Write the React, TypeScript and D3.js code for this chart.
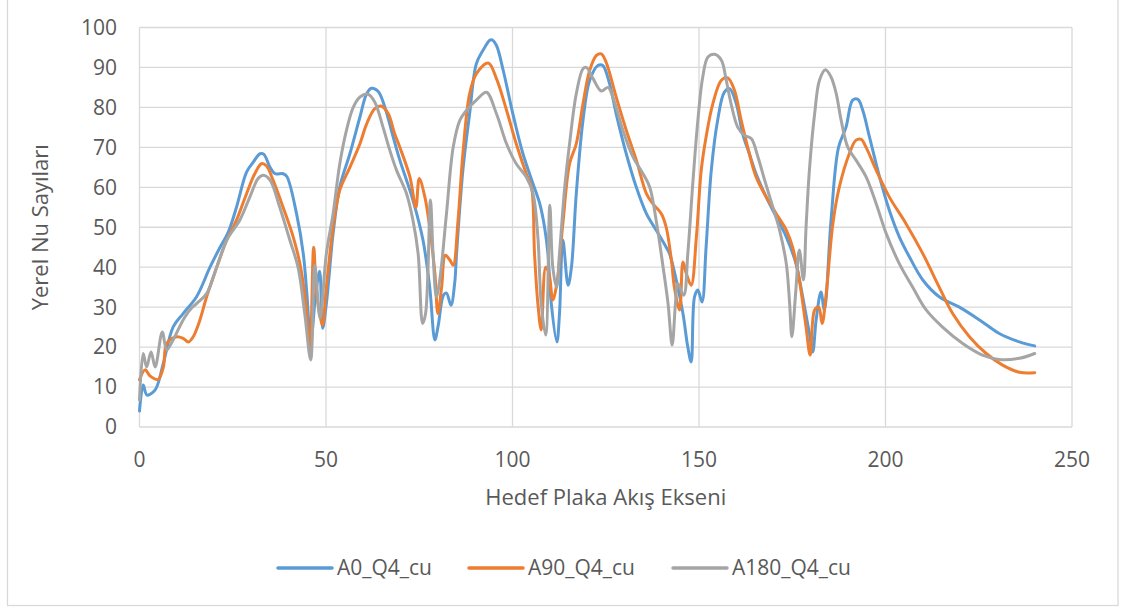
import React from "react";
import * as d3 from "d3";

const xTicks = [0, 50, 100, 150, 200, 250];
const yTicks = [0, 10, 20, 30, 40, 50, 60, 70, 80, 90, 100];
const seriesNames = ["A0_Q4_cu", "A90_Q4_cu", "A180_Q4_cu"];
const seriesColors = ["#5b9bd5", "#ed7d31", "#a5a5a5"];

const A0_Q4_cu: [number, number][] = [
  [0, 4], [1, 10.5], [2, 8], [4.2, 9.3], [6.4, 16], [9, 25], [11.7, 28.4], [15.3, 32.6], [18.9, 40], [21.6, 45],
  [23.8, 48.8], [26, 55], [28.7, 63.8], [30.5, 66.3], [32.3, 68.4], [33.3, 68.3], [35, 65], [36.3, 63.4], [38.5, 63.4],
  [39.5, 62.7], [42.1, 53.4], [43.9, 43.4], [44.9, 33], [45.9, 21], [47.2, 33], [48.3, 39], [49.1, 24.7], [50.1, 30.9],
  [51.9, 48.4], [53.7, 60.1], [56.4, 68.4], [59.1, 77.6], [60.9, 83.4], [62.2, 84.8], [64, 84], [65.8, 80], [68, 72.6],
  [69.8, 66.8], [73.3, 56.8], [76, 46.8], [77.8, 35], [79.2, 21.8], [80.1, 25.5], [81.5, 33], [82.3, 33.5], [83.5, 30.5],
  [84.5, 36], [85, 43.4], [86.7, 64.3], [88.5, 78.4], [90.3, 90.9], [92.1, 94.3], [93.9, 96.8], [94.5, 96.9], [95.7, 95.5],
  [97.5, 89.3], [100.1, 78.4], [102.8, 68.4], [105.5, 60.9], [107.3, 55.9], [108.6, 50], [109.5, 43.4], [110.4, 30.9],
  [111.9, 21.3], [112.6, 28.4], [113.5, 46.8], [114.9, 35.5], [115.8, 40], [117.1, 58.4], [118.9, 76.8], [120.7, 86.8],
  [122.9, 90.5], [124.2, 90.5], [126, 86], [127.8, 78.4], [130.5, 68.4], [133.2, 60], [135.9, 53.4], [138.5, 49.3],
  [141.2, 45], [142.1, 43.4], [143.9, 36.8], [145.7, 28.4], [147, 20], [147.9, 16.3], [148.8, 32.6], [149.7, 34.3],
  [150.8, 31.3], [151.9, 45], [153.3, 64.3], [155, 76.8], [156.8, 83.8], [158.2, 84.7], [160, 80.9], [161.7, 73.4],
  [163.5, 68.4], [165.3, 63.4], [168, 57.6], [170.7, 52.6], [173.4, 47.6], [176, 40.9], [177.8, 32.6], [179.6, 23.4],
  [180.5, 18.8], [181.4, 26.8], [182.7, 33.8], [183.6, 29.3], [185.4, 51.8], [187.4, 70], [189.4, 75], [191.2, 81.8],
  [192.6, 82], [193.9, 79.3], [195.7, 72.6], [198.4, 62.6], [201, 54.3], [203.7, 47.6], [206.4, 42.6], [210, 36.8],
  [214.4, 32.6], [219.8, 30], [225.2, 26.8], [230.5, 23.4], [235.9, 21.3], [240, 20.3],
];

const A90_Q4_cu: [number, number][] = [
  [0, 11.8], [1.5, 14.3], [2.8, 12.8], [5, 11.9], [6.4, 15], [7.3, 20.9], [10, 22.6], [11.7, 22.2], [13.1, 21.3],
  [14.4, 22.6], [16.2, 26.8], [18, 32.6], [20.7, 40], [23.4, 46.8], [26, 51.8], [28.7, 58.4], [30.9, 63.4], [32.7, 65.9],
  [34, 65.4], [35.8, 61.8], [38.5, 55], [41.2, 47.6], [43, 40.9], [44.6, 30.9], [45.7, 19.3], [46.7, 45], [47.5, 33.4],
  [49, 25.5], [50.1, 35], [51.9, 50], [53.7, 59.3], [56.4, 65], [59.1, 70.9], [60.9, 75.9], [63.1, 79.7], [64.9, 80.3],
  [66.7, 78.4], [68.4, 73.4], [69.8, 70], [72.5, 62.6], [74.1, 55], [75, 62.2], [76.5, 57.6], [77.8, 50], [79.2, 38.4],
  [80, 28.4], [81, 35], [82, 43], [83.2, 41.8], [84.1, 40.5], [85.4, 51.8], [86.7, 68.4], [88.5, 83.4], [90.3, 88.4],
  [93.5, 91.1], [95.7, 87.2], [98.4, 79.3], [101, 70.9], [103.7, 63.4], [105.1, 60], [105.9, 43.4], [106.8, 30.9],
  [107.7, 24.3], [108.9, 40], [109.8, 38.4], [110.8, 31.8], [111.9, 35.9], [113.5, 50.9], [115.3, 65.9], [117.1, 70.9],
  [118.9, 80.9], [120.7, 89.3], [122.5, 93], [123.8, 93.4], [125.1, 91.3], [127.8, 82.6], [130.5, 74.3], [133.2, 66.8],
  [135.9, 58.4], [137.6, 55.9], [139.9, 53.4], [141.2, 50], [142.6, 41.8], [143.4, 35], [144.8, 29.3], [145.7, 41.3],
  [146.6, 38.4], [147.9, 35.5], [149.3, 47.6], [150.6, 64.3], [151.9, 72.6], [153.7, 80.9], [156, 86.8], [157.7, 87.4],
  [159.5, 84.3], [161.3, 76.8], [163.5, 68.4], [165.3, 62.6], [168, 57.6], [170.7, 53.4], [173.4, 49.3], [175.1, 45],
  [176.9, 36.8], [178.7, 25], [179.8, 18], [181, 29.3], [182.1, 30], [183, 25.9], [184.1, 33.4], [185.9, 51],
  [187.6, 60], [190.3, 68.4], [192.1, 71.8], [193.5, 72], [194.8, 70], [197.5, 64.3], [201, 57.6], [205.5, 50.9],
  [210, 43.4], [214.4, 35], [218, 28.4], [222.5, 22.6], [227, 18.4], [231.4, 15.5], [235.9, 13.7], [240, 13.6],
];

const A180_Q4_cu: [number, number][] = [
  [0, 6.8], [1, 18.4], [1.9, 15], [3.1, 18.8], [4.2, 15], [6.1, 23.8], [7.3, 19.3], [9, 21.8], [11.7, 26.8],
  [13.5, 29.3], [15.3, 30.9], [18, 33.4], [20.7, 40], [23.4, 46.8], [26.9, 51.8], [29.6, 57.6], [31.8, 62.2], [33.2, 63],
  [35, 61.8], [37.6, 55], [40.3, 46.8], [42.5, 40], [44.3, 28.4], [45.9, 16.8], [47, 40.5], [48.4, 27.3], [50.1, 43.4],
  [51.9, 53.4], [53.7, 65.9], [55.5, 74.3], [57.3, 80], [59.1, 82.6], [61.3, 83.3], [63.1, 81.3], [65.3, 75],
  [67.1, 69.3], [68.9, 64.3], [71.6, 58.4], [73.3, 51.8], [74.7, 43.4], [75.9, 25.9], [76.7, 28.4], [78, 56.8],
  [78.7, 43.4], [79.6, 32.6], [80.5, 36.8], [82.3, 53.4], [84.1, 70], [85.9, 76.8], [87.7, 79.3], [90.3, 81.8],
  [93, 83.8], [95.7, 78.4], [98.4, 70.9], [101, 65.9], [103.7, 62.6], [105.5, 58.4], [106.8, 47.6], [107.7, 30.9],
  [108.9, 23], [110, 55.5], [110.8, 40], [111.8, 35], [112.6, 43.4], [114, 60], [115.3, 70.9], [117.1, 83.4],
  [118.9, 89.7], [119.8, 90], [121.6, 87.2], [123.8, 84.1], [125.6, 85], [126.9, 82.6], [129.6, 74.3], [132.3, 67.6],
  [135, 63.4], [136.8, 60], [138.5, 51.8], [140.3, 40.5], [141.7, 30.9], [142.8, 20.5], [143.7, 31], [144.3, 35.9],
  [145.9, 33], [147, 43.4], [148.4, 61.8], [149.7, 76.8], [151, 87.6], [152.4, 92.6], [154.2, 93.3], [156, 91.8],
  [157.3, 86.8], [158.6, 80.9], [160.4, 75], [162.2, 73], [164, 72.2], [165.8, 67.6], [167.6, 61.8], [169.8, 55],
  [171.6, 49.3], [173.4, 40.9], [174.3, 30.9], [174.9, 22.6], [175.9, 33.4], [176.9, 44.3], [178, 36.8], [178.7, 50],
  [179.6, 64.3], [181, 78.4], [182.3, 86.8], [183.9, 89.4], [185.4, 87.6], [186.8, 83.4], [188.1, 76.8], [189.9, 70],
  [192.1, 66.8], [194.8, 62.6], [197.5, 55.9], [200.2, 48.4], [203.7, 40.9], [207.3, 35], [210.9, 29.3], [215.3, 25],
  [220.7, 20.9], [226, 18], [230.5, 16.9], [235.9, 17.2], [240, 18.4],
];

const seriesData = [A0_Q4_cu, A90_Q4_cu, A180_Q4_cu];

const W = 1123;
const H = 610;
const plot = { left: 139.5, right: 1072, top: 27.5, bottom: 427 };
const FONT = "'Open Sans', 'Liberation Sans', sans-serif";
const TEXT = "#595959";
const GRID = "#d9d9d9";

export default function App() {
  const x = d3.scaleLinear().domain([0, 250]).range([plot.left, plot.right]);
  const y = d3.scaleLinear().domain([0, 100]).range([plot.bottom, plot.top]);
  const line = d3
    .line<[number, number]>()
    .x((d) => x(d[0]))
    .y((d) => y(d[1]))
    .curve(d3.curveCatmullRom.alpha(0.5));

  const legendItems = [
    { lx: 278, tx: 337 },
    { lx: 469, tx: 528 },
    { lx: 673, tx: 732 },
  ];

  return (
    <svg
      width={W}
      height={H}
      style={{ position: "absolute", left: 0, top: 0, background: "#fff" }}
      fontFamily={FONT}
    >
      <rect x={0} y={0} width={W} height={H} fill="#fff" />
      <rect x={7.5} y={-5} width={1110.5} height={610.5} fill="none" stroke={GRID} strokeWidth={1.3} />
      {yTicks.map((t) => (
        <line key={"gy" + t} x1={plot.left} x2={plot.right} y1={y(t)} y2={y(t)} stroke={GRID} strokeWidth={1.3} />
      ))}
      {xTicks.map((t) => (
        <line key={"gx" + t} x1={x(t)} x2={x(t)} y1={plot.top} y2={plot.bottom} stroke={GRID} strokeWidth={1.3} />
      ))}
      {yTicks.map((t) => (
        <text key={"ty" + t} x={117} y={y(t)} dy="0.35em" textAnchor="end" fontSize={21} fill={TEXT}>
          {t}
        </text>
      ))}
      {xTicks.map((t) => (
        <text key={"tx" + t} x={x(t)} y={467} textAnchor="middle" fontSize={21} fill={TEXT}>
          {t}
        </text>
      ))}
      <text x={(plot.left + plot.right) / 2} y={505} textAnchor="middle" fontSize={22} fill={TEXT}>
        Hedef Plaka Akış Ekseni
      </text>
      <text
        transform={`translate(40, ${(plot.top + plot.bottom) / 2}) rotate(-90)`}
        textAnchor="middle"
        dy="0.35em"
        fontSize={22}
        fill={TEXT}
      >
        Yerel Nu Sayıları
      </text>
      {seriesData.map((s, i) => (
        <path
          key={"s" + i}
          d={line(s) || ""}
          fill="none"
          stroke={seriesColors[i]}
          strokeWidth={3}
          strokeLinejoin="round"
          strokeLinecap="round"
        />
      ))}
      {seriesNames.map((n, i) => (
        <g key={"lg" + i}>
          <line
            x1={legendItems[i].lx}
            x2={legendItems[i].lx + 54}
            y1={568}
            y2={568}
            stroke={seriesColors[i]}
            strokeWidth={3.5}
            strokeLinecap="round"
          />
          <text x={legendItems[i].tx} y={575} fontSize={21} fill={TEXT}>
            {n}
          </text>
        </g>
      ))}
    </svg>
  );
}
